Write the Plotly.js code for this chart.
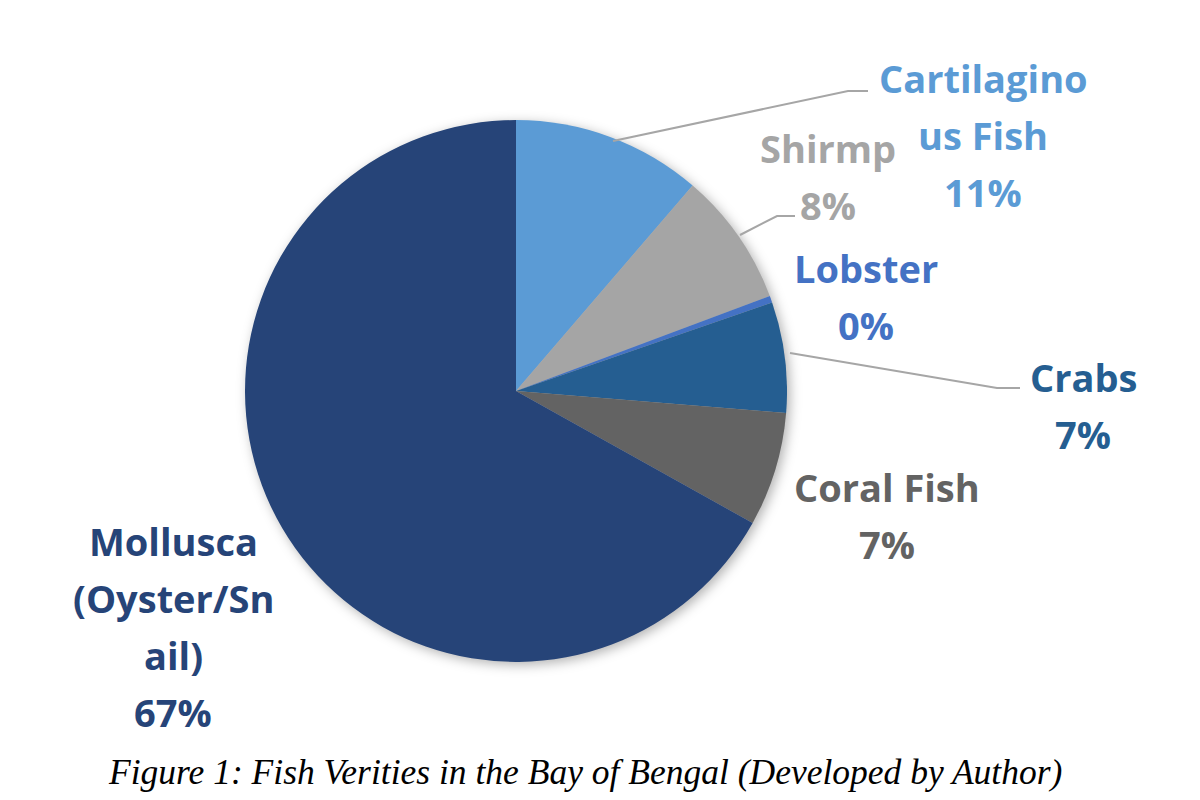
<!DOCTYPE html>
<html>
<head>
<meta charset="utf-8">
<script src="https://cdn.plot.ly/plotly-3.0.1.min.js"></script>
<style>
  html, body { margin: 0; padding: 0; background: #fff; }
  #chart { width: 1200px; height: 800px; }
  .pielayer { filter: drop-shadow(3px 3px 6px rgba(0,0,0,0.30)); }
</style>
</head>
<body>
<div id="chart"></div>
<script>
// ---- data ----
const categories = ['Cartilaginous Fish', 'Shirmp', 'Lobster', 'Crabs', 'Coral Fish', 'Mollusca (Oyster/Snail)'];
const labelText = ['Cartilagino<br>us Fish', 'Shirmp', 'Lobster', 'Crabs', 'Coral Fish', 'Mollusca<br>(Oyster/Sn<br>ail)'];
const values = [11.3, 8.0, 0.4, 6.6, 6.8, 66.9];
const sliceColors = ['#5B9BD5', '#A5A5A5', '#4472C4', '#255E91', '#636363', '#264478'];
const figureTitle = 'Figure 1: Fish Verities in the Bay of Bengal (Developed by Author)';

// ---- layout helpers (pixel positions -> paper) ----
const W = 1200, H = 800;
const px = x => x / W;
const py = y => 1 - y / H;

// label block: center x, y of first line (px)
const labelPos = [
  [983, 78], [828, 148], [866, 268], [1083, 377], [887, 487], [173, 541]
];
const lineGap = 57;

const total = values.reduce((a, b) => a + b, 0);
const annotations = [];
values.forEach((v, i) => {
  const lines = labelText[i].split('<br>').concat([Math.round(v / total * 100) + '%']);
  lines.forEach((t, k) => {
    annotations.push({
      x: px(labelPos[i][0]), y: py(labelPos[i][1] + k * lineGap),
      xref: 'paper', yref: 'paper', xanchor: 'center', yanchor: 'middle',
      text: t, showarrow: false,
      font: { family: '"Open Sans", Lato, sans-serif', size: 38, weight: 700, color: sliceColors[i] }
    });
  });
});
annotations.push({
  x: px(585), y: py(772), xref: 'paper', yref: 'paper', xanchor: 'center', yanchor: 'middle',
  text: '<i>' + figureTitle + '</i>', showarrow: false,
  font: { family: '"Liberation Serif", "Times New Roman", serif', size: 35.5, color: '#000' }
});

// leader lines
const leaders = [
  [[613, 141], [848, 91], [868, 91]],
  [[740, 235], [777, 216], [795, 216]],
  [[790, 353], [997, 388], [1020, 388]]
];
const shapes = leaders.map(pts => ({
  type: 'path', xref: 'paper', yref: 'paper',
  path: 'M' + pts.map(p => px(p[0]) + ',' + py(p[1])).join(' L'),
  line: { color: '#A6A6A6', width: 2 }
}));

const cx = 516, cy = 391, r = 271;
const trace = {
  type: 'pie',
  labels: categories,
  values: values,
  sort: false,
  direction: 'clockwise',
  rotation: 0,
  marker: { colors: sliceColors, line: { width: 0 } },
  textinfo: 'none',
  hoverinfo: 'label+percent',
  domain: { x: [px(cx - r), px(cx + r)], y: [py(cy + r), py(cy - r)] }
};

const layout = {
  width: W, height: H,
  margin: { l: 0, r: 0, t: 0, b: 0 },
  paper_bgcolor: '#ffffff',
  showlegend: false,
  annotations: annotations,
  shapes: shapes
};

Plotly.newPlot('chart', [trace], layout, { displayModeBar: false, staticPlot: true });
</script>
</body>
</html>
